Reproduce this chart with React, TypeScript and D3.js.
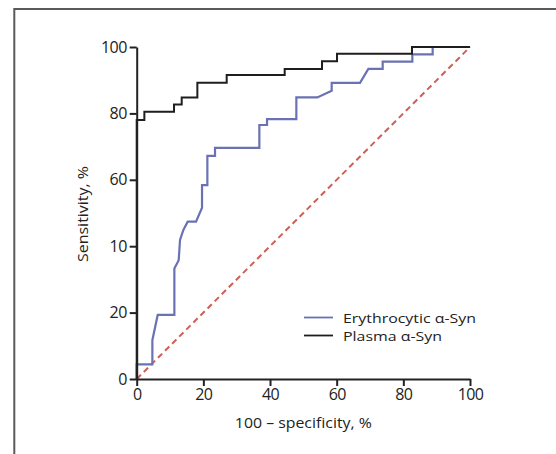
import React, { useEffect, useRef } from "react";
import * as d3 from "d3";

const W = 556;
const H = 454;

const xTicks = [0, 20, 40, 60, 80, 100];
const yTicks = [0, 20, 40, 60, 80, 100];
const yTickLabels = ["0", "20", "10", "60", "80", "100"];

// Plasma α-Syn ROC (step vertices: 100 - specificity, sensitivity)
const plasmaFpr = [0, 0, 2.3, 2.3, 11.2, 11.2, 13.5, 13.5, 18.2, 18.2, 27.0, 27.0, 44.4, 44.4, 55.6, 55.6, 60.1, 60.1, 82.6, 82.6, 100];
const plasmaTpr = [0, 78.0, 78.0, 80.5, 80.5, 82.7, 82.7, 84.8, 84.8, 89.2, 89.2, 91.6, 91.6, 93.4, 93.4, 95.7, 95.7, 98.0, 98.0, 100, 100];

// Erythrocytic α-Syn ROC
const eryFpr = [0, 0, 4.7, 4.7, 6.3, 11.3, 11.3, 12.6, 13.0, 14.0, 15.3, 17.8, 19.6, 19.6, 21.2, 21.2, 23.5, 23.5, 36.8, 36.8, 39.1, 39.1, 47.9, 47.9, 54.2, 58.5, 58.5, 67.0, 69.5, 73.8, 73.8, 82.7, 82.7, 88.8, 88.8, 100];
const eryTpr = [0, 4.4, 4.4, 11.7, 19.3, 19.3, 33.3, 35.8, 41.9, 44.9, 47.4, 47.4, 51.6, 58.4, 58.4, 67.2, 67.2, 69.6, 69.6, 76.5, 76.5, 78.3, 78.3, 84.8, 84.8, 86.8, 89.2, 89.2, 93.4, 93.4, 95.6, 95.6, 97.8, 97.8, 100, 100];

const refFpr = [0, 100];
const refTpr = [0, 100];

const seriesNames = ["Erythrocytic α-Syn", "Plasma α-Syn"];
const seriesColors = ["#6a72b4", "#1e1e1e"];

export default function App() {
  const ref = useRef<SVGSVGElement>(null);

  useEffect(() => {
    const svg = d3.select(ref.current);
    svg.selectAll("*").remove();

    const x = d3.scaleLinear().domain([0, 100]).range([136.7, 470]);
    const y = d3.scaleLinear().domain([0, 100]).range([379, 47]);

    // frame
    svg.append("path")
      .attr("d", `M14.3,${H} L14.3,9 L${W},9`)
      .attr("fill", "none")
      .attr("stroke", "#5a5a5a")
      .attr("stroke-width", 2);

    const font = "'Open Sans', 'Noto Sans', sans-serif";

    const line = d3.line<[number, number]>().x(d => x(d[0])).y(d => y(d[1]));

    // reference diagonal
    svg.append("path")
      .attr("d", line(refFpr.map((v, i) => [v, refTpr[i]]) as [number, number][]))
      .attr("fill", "none")
      .attr("stroke", "#cf5f55")
      .attr("stroke-width", 2)
      .attr("stroke-dasharray", "6,4");

    svg.append("path")
      .attr("d", line(eryFpr.map((v, i) => [v, eryTpr[i]]) as [number, number][]))
      .attr("fill", "none")
      .attr("stroke", seriesColors[0])
      .attr("stroke-width", 2.2);

    svg.append("path")
      .attr("d", line(plasmaFpr.map((v, i) => [v, plasmaTpr[i]]) as [number, number][]))
      .attr("fill", "none")
      .attr("stroke", seriesColors[1])
      .attr("stroke-width", 2);

    // axes
    const gx = svg.append("g").attr("transform", `translate(0,${y(0)})`)
      .call(d3.axisBottom(x).tickValues(xTicks).tickSize(7).tickPadding(3).tickSizeOuter(0));
    const gy = svg.append("g").attr("transform", `translate(${x(0)},0)`)
      .call(d3.axisLeft(y).tickValues(yTicks).tickFormat((d, i) => yTickLabels[i]).tickSize(7).tickPadding(3).tickSizeOuter(0));

    [gx, gy].forEach(g => {
      g.select(".domain").attr("stroke", "#222").attr("stroke-width", 2);
      g.selectAll(".tick line").attr("stroke", "#222").attr("stroke-width", 2);
      g.selectAll("text").attr("font-family", font).attr("font-size", 16).attr("fill", "#222")
        .attr("letter-spacing", -0.6);
    });

    // axis titles
    svg.append("text")
      .attr("x", x(50))
      .attr("y", 428)
      .attr("text-anchor", "middle")
      .attr("font-family", font)
      .attr("font-size", 14.5)
      .attr("fill", "#222")
      .attr("textLength", 137)
      .attr("lengthAdjust", "spacingAndGlyphs")
      .text("100 – specificity, %");

    svg.append("text")
      .attr("transform", `translate(88,214) rotate(-90)`)
      .attr("text-anchor", "middle")
      .attr("font-family", font)
      .attr("font-size", 14.5)
      .attr("fill", "#222")
      .attr("textLength", 96)
      .attr("lengthAdjust", "spacingAndGlyphs")
      .text("Sensitivity, %");

    // legend
    const legY = [317.5, 335.5];
    const legLen = [133, 99];
    seriesNames.forEach((name, i) => {
      svg.append("line")
        .attr("x1", 304).attr("x2", 333)
        .attr("y1", legY[i]).attr("y2", legY[i])
        .attr("stroke", seriesColors[i])
        .attr("stroke-width", 1.8);
      svg.append("text")
        .attr("x", 343)
        .attr("y", legY[i] + 5)
        .attr("font-family", font)
        .attr("font-size", 13)
        .attr("fill", "#222")
        .attr("textLength", legLen[i])
        .attr("lengthAdjust", "spacingAndGlyphs")
        .text(name);
    });
  }, []);

  return (
    <svg
      ref={ref}
      width={W}
      height={H}
      style={{ position: "absolute", left: 0, top: 0, background: "#fff" }}
    />
  );
}
